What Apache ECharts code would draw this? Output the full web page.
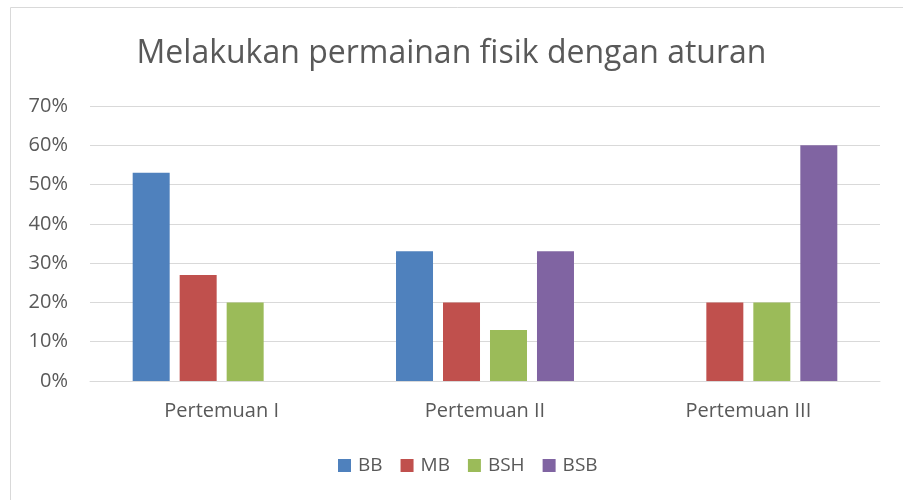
<!DOCTYPE html>
<html><head><meta charset="utf-8">
<script src="https://cdn.jsdelivr.net/npm/echarts@6/dist/echarts.min.js"></script>
<style>html,body{margin:0;padding:0;background:#fff}#c{width:903px;height:500px}</style>
</head><body><div id="c"></div>
<script>
const categories = ['Pertemuan I', 'Pertemuan II', 'Pertemuan III'];
const BB = [53, 33, 0];
const MB = [27, 20, 20];
const BSH = [20, 13, 20];
const BSB = [0, 33, 60];
const yTicks = [0, 10, 20, 30, 40, 50, 60, 70];

const font = 'Open Sans';
const chart = echarts.init(document.getElementById('c'));
const mk = (name, data, color) => ({
  name, type: 'bar', data, barWidth: 37, barGap: '27%',
  itemStyle: { color }
});
chart.setOption({
  animation: false,
  graphic: [{ type: 'rect', shape: { x: 10.5, y: 7.5, width: 910, height: 510 },
    style: { fill: 'none', stroke: '#d9d9d9', lineWidth: 1 } }],
  title: { text: 'Melakukan permainan fisik dengan aturan', left: 'center', top: 33,
    textStyle: { fontFamily: font, fontSize: 32, fontWeight: 'normal', color: '#595959' } },
  legend: { bottom: 20, left: 333, itemWidth: 13, itemHeight: 13, itemGap: 18,
    icon: 'rect', textStyle: { fontFamily: font, fontSize: 19, color: '#595959', padding: [0, 0, 0, 2] } },
  grid: { left: 90, right: 23, top: 106, bottom: 119 },
  xAxis: { type: 'category', data: categories,
    axisLine: { lineStyle: { color: '#d9d9d9' } }, axisTick: { show: false },
    axisLabel: { fontFamily: font, fontSize: 20, color: '#595959', margin: 20 } },
  yAxis: { type: 'value', min: 0, max: 70, interval: 10,
    axisLine: { show: false }, axisTick: { show: false },
    splitLine: { lineStyle: { color: '#d9d9d9', width: 1 } },
    axisLabel: { fontFamily: font, fontSize: 20, color: '#595959', margin: 22,
      formatter: v => yTicks.includes(v) ? v + '%' : '' } },
  series: [mk('BB', BB, '#4F81BD'), mk('MB', MB, '#C0504D'), mk('BSH', BSH, '#9BBB59'), mk('BSB', BSB, '#8064A2')]
});
</script></body></html>
